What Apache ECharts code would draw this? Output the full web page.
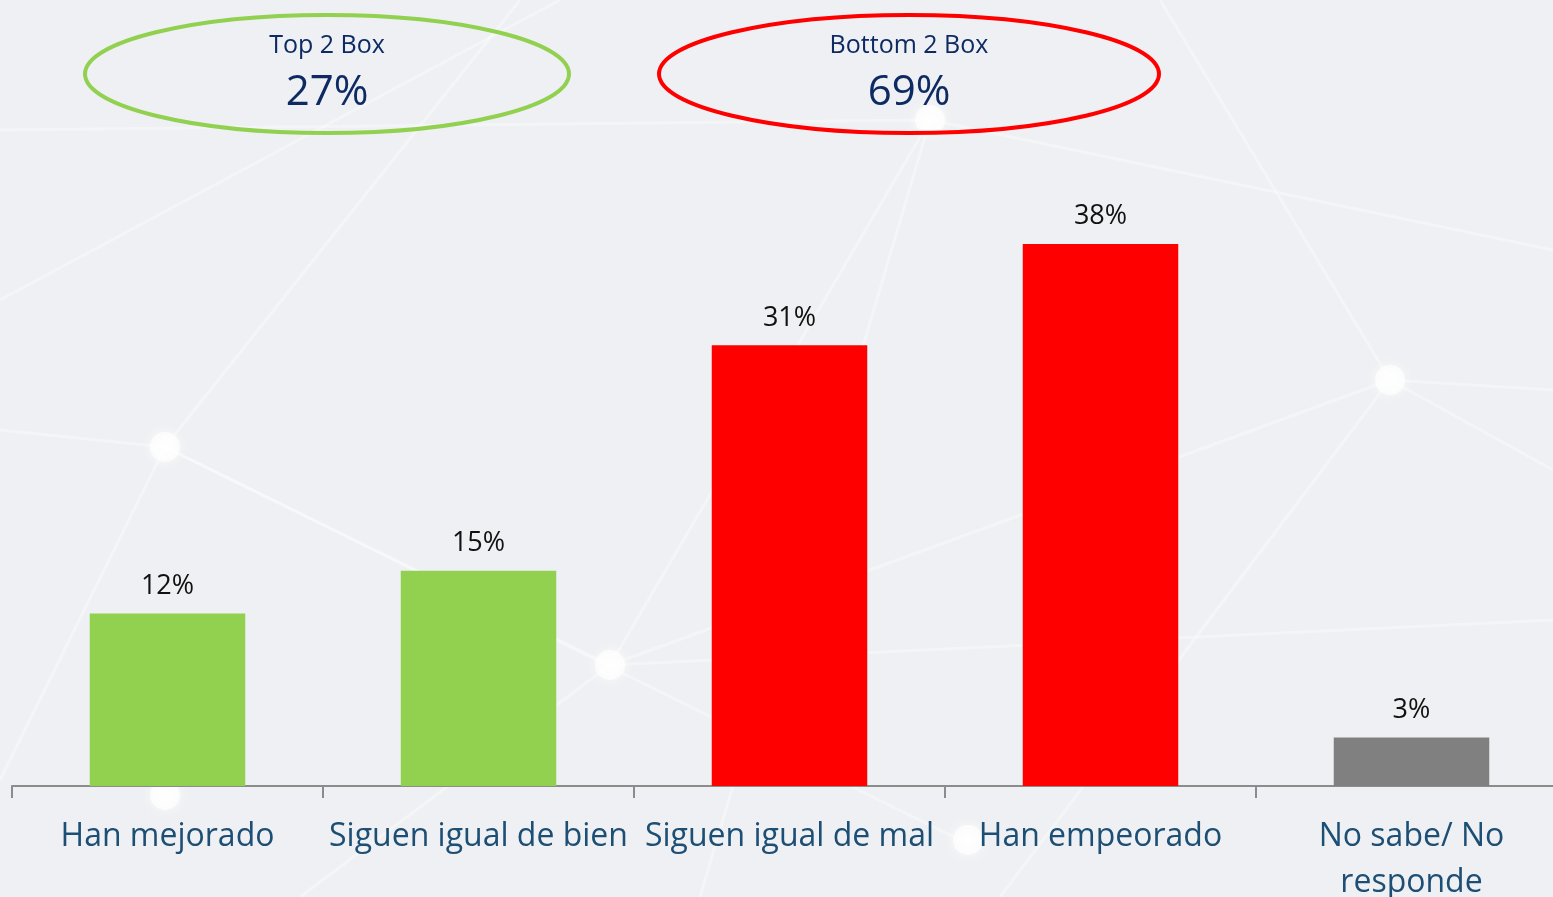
<!DOCTYPE html>
<html>
<head>
<meta charset="utf-8">
<script src="https://cdn.jsdelivr.net/npm/echarts@6/dist/echarts.min.js"></script>
<style>
html,body{margin:0;padding:0;background:#eff0f3;}
#main{width:1553px;height:897px;}
</style>
</head>
<body>
<div id="main"></div>
<script>
// categorías y valores (%)
var categories=['Han mejorado','Siguen igual de bien','Siguen igual de mal','Han empeorado','No sabe/ No\nresponde'];
var values=[12.1,15.1,30.9,38,3.4];
var barColors=['#92d050','#92d050','#ff0000','#ff0000','#808080'];
var topIdx=[0,1],bottomIdx=[2,3];

var topBox=Math.round(topIdx.reduce(function(s,i){return s+values[i];},0));
var bottomBox=Math.round(bottomIdx.reduce(function(s,i){return s+values[i];},0));

// fondo: red de líneas tenues (decoración)
var bgLines=[
	[0,300,560,0],[0,430,165,447],[165,447,610,665],[165,447,520,0],[610,665,1390,380],
	[1390,380,1553,390],[1390,380,1553,470],[1390,380,1160,0],[610,665,930,120],[930,120,1553,250],
	[0,780,165,447],[165,447,960,840],[610,665,1553,620],[1390,380,1000,897],[300,897,610,665],
	[930,120,700,897],[0,130,930,120]
];
var bgDots=[[165,447],[610,665],[1390,380],[930,120],[165,795],[968,840]];
var graphics=[];
bgLines.forEach(function(l){
	graphics.push({type:'line',z:-10,shape:{x1:l[0],y1:l[1],x2:l[2],y2:l[3]},style:{stroke:'rgba(255,255,255,0.35)',lineWidth:3}});
});
bgDots.forEach(function(d){
	graphics.push({type:'circle',z:-10,shape:{cx:d[0],cy:d[1],r:15},style:{fill:'rgba(255,255,255,0.7)',shadowBlur:12,shadowColor:'#fff'}});
});
// óvalos Top 2 / Bottom 2
function oval(cx,color,title,val,rx){
	graphics.push({type:'ellipse',shape:{cx:cx,cy:74,rx:rx,ry:59},style:{fill:'none',stroke:color,lineWidth:4}});
	graphics.push({type:'text',x:cx,y:46,style:{text:title,fill:'#0d2a63',font:'25px "Open Sans"',align:'center',verticalAlign:'middle'}});
	graphics.push({type:'text',x:cx,y:93,style:{text:val+'%',fill:'#0d2a63',font:'42px "Open Sans"',align:'center',verticalAlign:'middle'}});
}
oval(327,'#92d050','Top 2 Box',topBox,242);
oval(909,'#ff0000','Bottom 2 Box',bottomBox,250);

var myChart=echarts.init(document.getElementById('main'));
var option={
	backgroundColor:'#eff0f3',
	animation:false,
	graphic:graphics,
	grid:{left:12,top:73,width:1555,bottom:111,containLabel:false,outerBoundsMode:'none'},
	xAxis:{
		type:'category',
		data:categories,
		axisLine:{lineStyle:{color:'#8c8c8c',width:2}},
		axisTick:{show:true,length:12,lineStyle:{color:'#8c8c8c',width:2}},
		axisLabel:{color:'#1d4e74',fontSize:32,fontFamily:'Open Sans',margin:28,lineHeight:46,interval:0}
	},
	yAxis:{type:'value',min:0,max:50,show:false,splitLine:{show:false}},
	series:[{
		type:'bar',
		barWidth:'50%',
		data:values.map(function(v,i){return {value:v,itemStyle:{color:barColors[i]}};}),
		label:{show:true,position:'top',distance:14,formatter:function(p){return Math.round(p.value)+'%';},color:'#111',fontSize:27,fontFamily:'Open Sans'}
	}]
};
myChart.setOption(option);
</script>
</body>
</html>
